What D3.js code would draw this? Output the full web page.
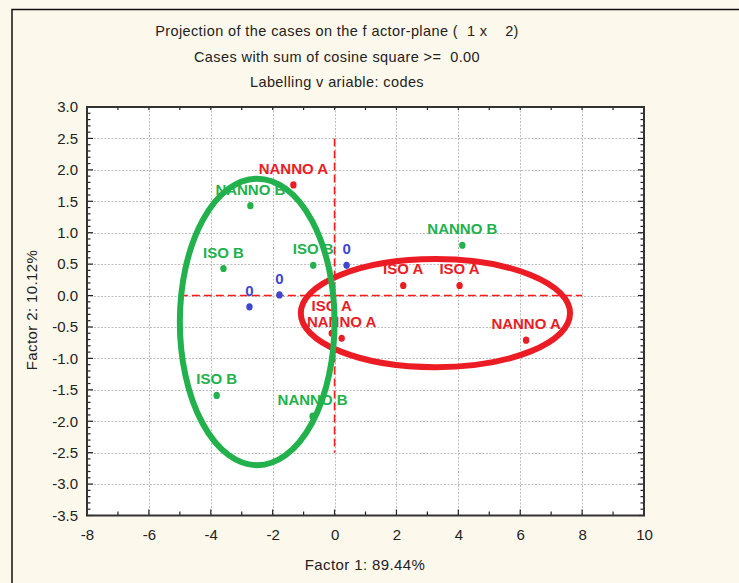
<!DOCTYPE html>
<html>
<head>
<meta charset="utf-8">
<script src="https://cdn.jsdelivr.net/npm/d3@7"></script>
<style>
  html, body { margin: 0; padding: 0; background: #fdf8ec; }
  svg { display: block; }
  text { font-family: "Liberation Sans", Arial, sans-serif; white-space: pre; }
</style>
</head>
<body>
<svg id="chart" width="739" height="583"></svg>
<script>
// Case coordinates on factor 1 x factor 2, with their labelling codes
const codes   = ["NANNO A", "NANNO B", "ISO B", "ISO B", "0", "0", "0", "ISO A", "ISO A", "NANNO B", "ISO A", "NANNO A", "NANNO A", "ISO B", "NANNO B"];
const factor1 = [-1.33, -2.72, -3.59, -0.69, 0.39, -1.78, -2.75, 2.22, 4.04, 4.13, -0.09, 0.23, 6.19, -3.81, -0.71];
const factor2 = [ 1.76,  1.43,  0.43,  0.48, 0.48,  0.01, -0.18, 0.16, 0.16, 0.80, -0.60, -0.68, -0.71, -1.59, -1.92];

// Axis ticks
const xTicks = [-8, -6, -4, -2, 0, 2, 4, 6, 8, 10];
const yTicks = [3.0, 2.5, 2.0, 1.5, 1.0, 0.5, 0.0, -0.5, -1.0, -1.5, -2.0, -2.5, -3.0, -3.5];

// Group outlines (center and semi-axes, in factor units)
const groupNames = ["A", "B"];
const groupCx = [3.26, -2.50];
const groupCy = [-0.28, -0.42];
const groupRx = [4.35, 2.50];
const groupRy = [0.86, 2.28];

const titleLines = [
  "Projection of the cases on the f actor-plane (  1 x    2)",
  "Cases with sum of cosine square >=  0.00",
  "Labelling v ariable: codes"
];

const colorOf = c => c.endsWith("A") ? "#ec1c24" : c.endsWith("B") ? "#22b14c" : "#3f48cc";

const svg = d3.select("#chart");
const W = 739, H = 583;
const plot = { left: 87, right: 644, top: 107, bottom: 515.5 };

const x = d3.scaleLinear().domain([-8, 10]).range([plot.left, plot.right]);
const y = d3.scaleLinear().domain([-3.5, 3]).range([plot.bottom, plot.top]);

// background and outer frame
svg.append("rect").attr("width", W).attr("height", H).attr("fill", "#fdf8ec");
svg.append("path").attr("d", `M12,${H} V9.5 H${W}`).attr("fill", "none").attr("stroke", "#111").attr("stroke-width", 1.5);

// titles
svg.selectAll("text.title").data(titleLines).join("text")
  .attr("class", "title")
  .attr("x", 337).attr("y", (d, i) => 36 + i * 25.5)
  .attr("text-anchor", "middle")
  .attr("font-size", 14.5).attr("letter-spacing", 0.4).attr("fill", "#222")
  .text(d => d);

// plot area
svg.append("rect")
  .attr("x", plot.left).attr("y", plot.top)
  .attr("width", plot.right - plot.left).attr("height", plot.bottom - plot.top)
  .attr("fill", "#fff");

// dotted grid
const grid = svg.append("g").attr("stroke", "#bdbdbd").attr("stroke-width", 1).attr("stroke-dasharray", "2,1.5");
grid.selectAll("line.gx").data(xTicks.slice(1, -1)).join("line")
  .attr("x1", d => Math.round(x(d)) + 0.5).attr("x2", d => Math.round(x(d)) + 0.5)
  .attr("y1", plot.top).attr("y2", plot.bottom);
grid.selectAll("line.gy").data(yTicks.slice(1, -1)).join("line")
  .attr("y1", d => Math.round(y(d)) + 0.5).attr("y2", d => Math.round(y(d)) + 0.5)
  .attr("x1", plot.left).attr("x2", plot.right);

// axes with inward ticks
const tickColor = "#222";
const xMinor = d3.range(-8, 10.001, 1);
const yMinor = d3.range(-35, 31, 1).map(v => v / 10);
const ax = svg.append("g").attr("stroke", tickColor).attr("stroke-width", 1.2);
xMinor.forEach(v => {
  const len = (Math.abs(v) % 2 === 0) ? 6 : 4;
  ax.append("line").attr("x1", x(v)).attr("x2", x(v)).attr("y1", plot.bottom).attr("y2", plot.bottom - len);
  ax.append("line").attr("x1", x(v)).attr("x2", x(v)).attr("y1", plot.top).attr("y2", plot.top + 3);
});
yMinor.forEach(v => {
  const major = Math.abs(Math.round(v * 10)) % 5 === 0;
  const len = major ? 6 : 3.5;
  ax.append("line").attr("x1", plot.left - 1).attr("x2", plot.left + len).attr("y1", y(v)).attr("y2", y(v));
  ax.append("line").attr("x1", plot.right + 1).attr("x2", plot.right - len).attr("y1", y(v)).attr("y2", y(v));
});

svg.append("rect")
  .attr("x", plot.left).attr("y", plot.top)
  .attr("width", plot.right - plot.left).attr("height", plot.bottom - plot.top)
  .attr("fill", "none").attr("stroke", "#333").attr("stroke-width", 2);

// tick labels via d3 axes (plain hyphen for negatives)
const hy = f => d => f(d).replace("\u2212", "-");
const xAxis = svg.append("g").attr("transform", `translate(0,${plot.bottom})`)
  .call(d3.axisBottom(x).tickValues(xTicks).tickSize(0).tickPadding(14).tickFormat(hy(d3.format("d"))));
const yAxis = svg.append("g").attr("transform", `translate(${plot.left},0)`)
  .call(d3.axisLeft(y).tickValues(yTicks).tickSize(0).tickPadding(9).tickFormat(hy(d3.format(".1f"))));
[xAxis, yAxis].forEach(g => {
  g.select(".domain").remove();
  g.selectAll("text").attr("font-size", 15).attr("fill", "#222")
    .attr("font-family", "'Liberation Sans', Arial, sans-serif");
});

// axis titles
svg.append("text").attr("x", 365).attr("y", 570).attr("text-anchor", "middle")
  .attr("font-size", 15).attr("letter-spacing", 0.4).attr("fill", "#222").text("Factor 1: 89.44%");
svg.append("text").attr("transform", "translate(37,310) rotate(-90)").attr("text-anchor", "middle")
  .attr("font-size", 15).attr("letter-spacing", 0.4).attr("fill", "#222").text("Factor 2: 10.12%");

// origin cross (dashed)
const cross = svg.append("g").attr("stroke", "#ff1a1a").attr("stroke-width", 1.6).attr("stroke-dasharray", "8,4");
cross.append("line").attr("x1", x(-5)).attr("x2", x(8)).attr("y1", y(0)).attr("y2", y(0));
cross.append("line").attr("x1", x(0)).attr("x2", x(0)).attr("y1", y(2.5)).attr("y2", y(-2.5));

// points
const cases = codes.map((c, i) => ({ code: c, f1: factor1[i], f2: factor2[i] }));
svg.append("g").selectAll("ellipse").data(cases).join("ellipse")
  .attr("cx", d => x(d.f1)).attr("cy", d => y(d.f2))
  .attr("rx", 3.2).attr("ry", 3.6)
  .attr("fill", d => colorOf(d.code));

// labels above each point, lifted one line when they would collide
const placed = [];
const order = d3.range(cases.length).sort((a, b) => factor2[a] - factor2[b]);
const labelG = svg.append("g").attr("font-size", 15).attr("font-weight", "bold");
order.forEach(i => {
  const d = cases[i];
  const t = labelG.append("text")
    .attr("x", x(d.f1)).attr("text-anchor", "middle")
    .attr("fill", colorOf(d.code)).text(d.code);
  let base = y(d.f2) - 11;
  const w = t.node().getComputedTextLength();
  const box = { x0: x(d.f1) - w / 2, x1: x(d.f1) + w / 2 };
  let moved = true;
  while (moved) {
    moved = false;
    for (const p of placed) {
      if (box.x0 < p.x1 && box.x1 > p.x0 && base > p.base - 14 && base < p.base + 14) {
        base = p.base - 16; moved = true;
      }
    }
  }
  t.attr("y", base);
  placed.push({ x0: box.x0, x1: box.x1, base });
});

// group outlines drawn on top
const groups = groupNames.map((g, i) => ({ g, cx: groupCx[i], cy: groupCy[i], rx: groupRx[i], ry: groupRy[i] }));
svg.append("g").selectAll("ellipse").data(groups).join("ellipse")
  .attr("cx", d => x(d.cx)).attr("cy", d => y(d.cy))
  .attr("rx", d => x(d.cx + d.rx) - x(d.cx)).attr("ry", d => y(d.cy - d.ry) - y(d.cy))
  .attr("fill", "none")
  .attr("stroke", d => d.g === "A" ? "#ec1c24" : "#22b14c")
  .attr("stroke-width", 6);
</script>
</body>
</html>
